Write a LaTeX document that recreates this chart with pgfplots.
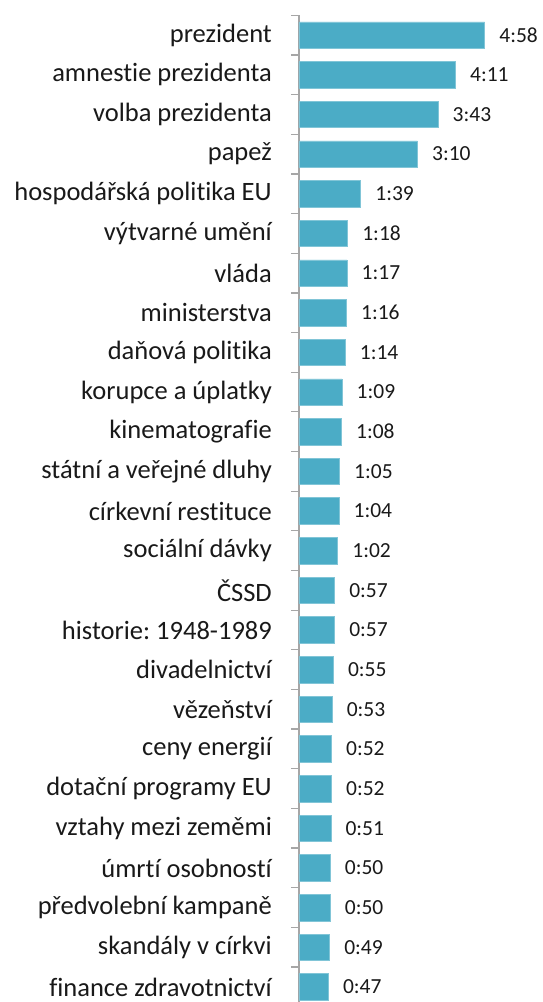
\documentclass[border=0pt]{standalone}
\usepackage{pgfplots}
\pgfplotsset{compat=1.18}
\usepackage{pgfplotstable}
\usepackage{fontspec}
\setmainfont{Carlito}[Ligatures={NoCommon}]
\frenchspacing
\definecolor{barblue}{HTML}{4BACC6}
\definecolor{axgray}{HTML}{A6A6A6}
\pgfplotstableread[col sep=comma]{
i,sec,label
0,298,4:58
1,251,4:11
2,223,3:43
3,190,3:10
4,99,1:39
5,78,1:18
6,77,1:17
7,76,1:16
8,74,1:14
9,69,1:09
10,68,1:08
11,65,1:05
12,64,1:04
13,62,1:02
14,57,0:57
15,57,0:57
16,55,0:55
17,53,0:53
18,52,0:52
19,52,0:52
20,51,0:51
21,50,0:50
22,50,0:50
23,49,0:49
24,47,0:47
}\datatable
\begin{document}
\begin{tikzpicture}
\begin{axis}[
  at={(299pt,-15.2pt)}, anchor=north west,
  scale only axis,
  width=243pt, height=986.8pt,
  xmin=0, xmax=390,
  ymin=-0.5, ymax=24.38,
  y dir=reverse,
  xbar, bar width=26.5pt,
  axis x line=none,
  axis y line*=left,
  y axis line style={axgray, line width=1.5pt},
  ytick={0,...,24},
  yticklabels={prezident, amnestie prezidenta, volba prezidenta, papež, hospodářská politika EU, výtvarné umění, vláda, ministerstva, daňová politika, korupce a úplatky, kinematografie, státní a veřejné dluhy, církevní restituce, sociální dávky, ČSSD, historie: 1948-1989, divadelnictví, vězeňství, ceny energií, dotační programy EU, vztahy mezi zeměmi, úmrtí osobností, předvolební kampaně, skandály v církvi, finance zdravotnictví},
  yticklabel style={font=\fontsize{26.5}{30}\selectfont, anchor=east, inner sep=0pt, xshift=-27pt, text=black!90},
  major tick length=0pt,
  extra y ticks={-0.5,0.5,...,23.5},
  extra y tick labels={},
  extra y tick style={major tick length=8pt, tick align=outside, tick style={axgray, line width=1.3pt}},
  clip=false,
  nodes near coords,
  point meta=explicit symbolic,
  nodes near coords style={anchor=west, inner sep=0pt, xshift=14.5pt, font=\fontsize{21.5}{24}\selectfont, text=black!90},
]
\addplot[fill=barblue, draw=barblue!70!white, line width=0.5pt] table[x=sec, y=i, meta=label] {\datatable};
\end{axis}
\pgfresetboundingbox
\path (0,0) rectangle (542pt,-1002pt);
\end{tikzpicture}
\end{document}
